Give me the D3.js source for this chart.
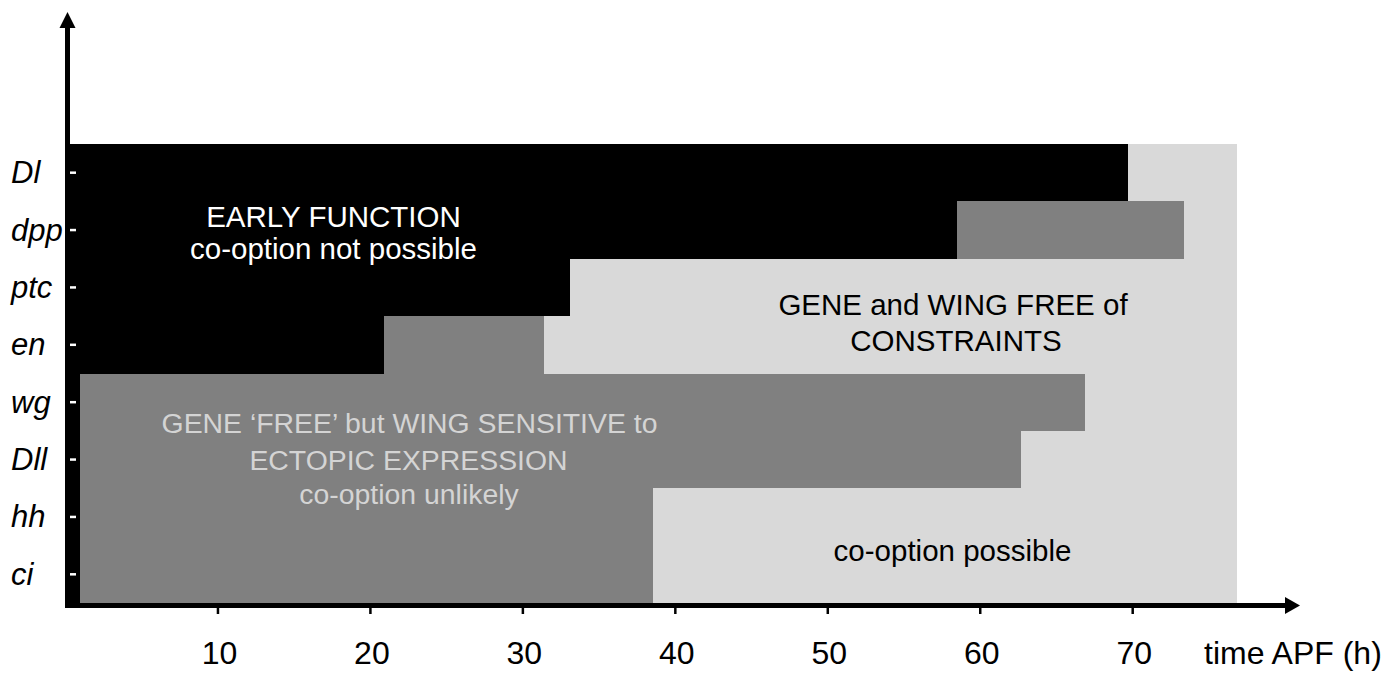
<!DOCTYPE html>
<html>
<head>
<meta charset="utf-8">
<script src="https://cdn.jsdelivr.net/npm/d3@7"></script>
<style>
  body { margin: 0; background: #fff; }
  svg text { font-family: "Liberation Sans", Arial, sans-serif; }
</style>
</head>
<body>
<svg id="chart"></svg>
<script>
// genes, top to bottom
var genes = ['Dl', 'dpp', 'ptc', 'en', 'wg', 'Dll', 'hh', 'ci'];
// end (h APF) of each phase per gene
var earlyEnd = [69.7, 58.5, 33.1, 20.9, 1.0, 1.0, 1.0, 1.0];
var sensitiveEnd = [69.7, 73.4, 33.1, 31.4, 66.9, 62.7, 38.6, 38.6];
var freeEnd = [76.9, 76.9, 76.9, 76.9, 76.9, 76.9, 76.9, 76.9];
var xTicks = [10, 20, 30, 40, 50, 60, 70];

var width = 1388, height = 680;

var svg = d3.select('#chart')
    .attr('width', width)
    .attr('height', height);

var x = d3.scaleLinear().domain([0, 70]).range([65, 1132.2]);
var y = d3.scaleBand().domain(genes).range([144, 603]).padding(0);

// phases drawn back to front: free, sensitive, early
var layers = [
    {ends: freeEnd, color: '#d9d9d9'},
    {ends: sensitiveEnd, color: '#808080'},
    {ends: earlyEnd, color: '#000000'}
];

layers.forEach(function (layer) {
    svg.append('g').selectAll('rect')
        .data(genes)
        .enter().append('rect')
        .attr('x', x(0))
        .attr('y', d => y(d))
        .attr('width', (d, i) => x(layer.ends[i]) - x(0))
        .attr('height', y.bandwidth())
        .attr('fill', layer.color)
        .attr('shape-rendering', 'crispEdges');
});

// y ticks (white, inside) and gene labels
var yAxis = svg.append('g')
    .attr('transform', 'translate(70,0)')
    .call(d3.axisRight(y).tickSize(6).tickFormat(''));
yAxis.select('.domain').remove();
yAxis.selectAll('.tick line')
    .attr('stroke', '#fff')
    .attr('stroke-width', 2.5);

svg.append('g').selectAll('text')
    .data(genes)
    .enter().append('text')
    .attr('x', 11)
    .attr('y', d => y(d) + y.bandwidth() / 2 + 10.5)
    .attr('font-size', 31)
    .attr('font-style', 'italic')
    .attr('fill', '#000')
    .text(d => d);

// x axis ticks and labels
var xAxis = svg.append('g')
    .attr('transform', 'translate(0,608)')
    .call(d3.axisBottom(x).tickValues(xTicks).tickSize(6));
xAxis.select('.domain').remove();
xAxis.selectAll('.tick line')
    .attr('stroke', '#000')
    .attr('stroke-width', 2.5);
xAxis.selectAll('.tick text')
    .attr('y', 56)
    .attr('dy', 0)
    .attr('x', 1.5)
    .attr('font-size', 32)
    .attr('fill', '#000');

svg.append('text')
    .attr('x', 1204)
    .attr('y', 664)
    .attr('font-size', 32)
    .attr('fill', '#000')
    .text('time APF (h)');

// axis lines with arrows
svg.append('line')
    .attr('x1', 67.5).attr('y1', 608)
    .attr('x2', 67.5).attr('y2', 26)
    .attr('stroke', '#000').attr('stroke-width', 5);
svg.append('path')
    .attr('d', 'M67.5,12 L75.5,28 L59.5,28 Z')
    .attr('fill', '#000');

svg.append('line')
    .attr('x1', 65).attr('y1', 605.5)
    .attr('x2', 1288).attr('y2', 605.5)
    .attr('stroke', '#000').attr('stroke-width', 5);
svg.append('path')
    .attr('d', 'M1300,605.5 L1285,597 L1285,614 Z')
    .attr('fill', '#000');

// region annotations
var notes = [
    {text: 'EARLY FUNCTION', cx: 333.5, by: 227, color: '#fff', size: 29.5},
    {text: 'co-option not possible', cx: 333.5, by: 259, color: '#fff', size: 29.5},
    {text: 'GENE and WING FREE of', cx: 953, by: 315, color: '#000', size: 29.5},
    {text: 'CONSTRAINTS', cx: 956, by: 351, color: '#000', size: 29.5},
    {text: 'GENE \u2018FREE\u2019 but WING SENSITIVE to', cx: 409.5, by: 433, color: '#d4d4d4', size: 28.4},
    {text: 'ECTOPIC EXPRESSION', cx: 408.5, by: 470, color: '#d4d4d4', size: 28.4},
    {text: 'co-option unlikely', cx: 409, by: 504, color: '#d4d4d4', size: 28.4},
    {text: 'co-option possible', cx: 952.5, by: 561, color: '#000', size: 29.5}
];

svg.append('g').selectAll('text')
    .data(notes)
    .enter().append('text')
    .attr('x', d => d.cx)
    .attr('y', d => d.by)
    .attr('text-anchor', 'middle')
    .attr('font-size', d => d.size)
    .attr('fill', d => d.color)
    .text(d => d.text);
</script>
</body>
</html>
